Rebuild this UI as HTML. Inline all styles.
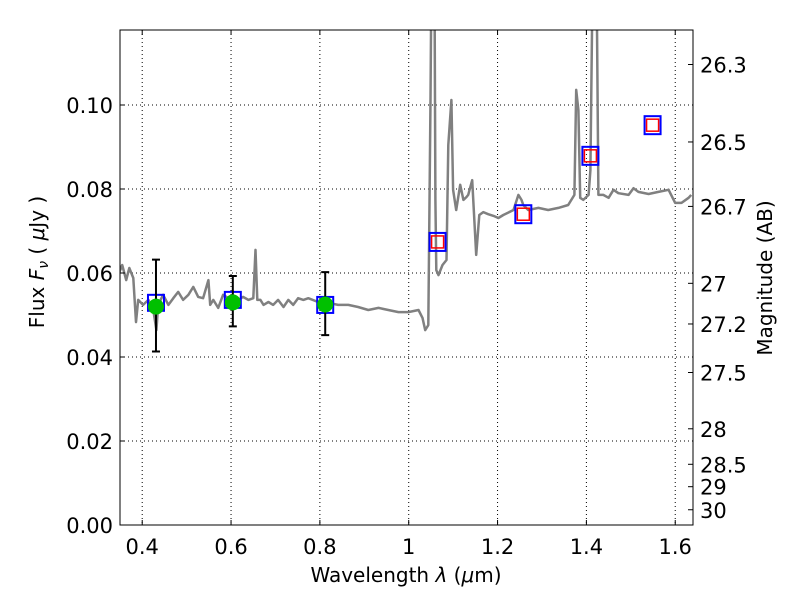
<!DOCTYPE html>
<html><head><meta charset="utf-8"><style>
body{margin:0;background:#fff;}
svg{font-family:"DejaVu Sans","Liberation Sans",sans-serif;}
</style></head><body>
<svg id="chart" width="800" height="600" xmlns="http://www.w3.org/2000/svg">
<defs><clipPath id="clip"><rect x="120" y="30" width="573" height="495"/></clipPath></defs>
<rect x="0" y="0" width="800" height="600" fill="#fff"/>
<g id="grid"></g>
<g id="plot" clip-path="url(#clip)"></g>
<rect x="120" y="30" width="573" height="495" fill="none" stroke="#000" stroke-width="1"/>
<g id="axes"></g>
<text x="406" y="582" font-size="20" text-anchor="middle">Wavelength  <tspan font-style="italic">λ</tspan> (<tspan font-style="italic">μ</tspan>m)</text>
<text transform="translate(44,262) rotate(-90)" font-size="20" text-anchor="middle">Flux  <tspan font-style="italic">F<tspan font-size="14" dy="4">ν</tspan></tspan><tspan dy="-4">  (  <tspan font-style="italic">μ</tspan>Jy )</tspan></text>
<text transform="translate(772,278) rotate(-90)" font-size="20" text-anchor="middle">Magnitude (AB)</text>
</svg>
<script>
const specLam=[0.346,0.355,0.364,0.371,0.380,0.386,0.391,0.402,0.414,0.425,0.432,0.436,0.447,0.459,0.470,0.481,0.492,0.504,0.515,0.526,0.537,0.549,0.553,0.560,0.571,0.582,0.594,0.605,0.616,0.627,0.639,0.650,0.655,0.659,0.666,0.673,0.684,0.695,0.706,0.718,0.729,0.740,0.751,0.763,0.774,0.796,0.819,0.841,0.864,0.886,0.909,0.932,0.954,0.977,0.999,1.022,1.031,1.037,1.044,1.049,1.051,1.058,1.060,1.062,1.067,1.076,1.085,1.089,1.096,1.100,1.107,1.116,1.123,1.130,1.134,1.143,1.152,1.159,1.168,1.179,1.191,1.202,1.213,1.236,1.247,1.254,1.258,1.269,1.292,1.314,1.337,1.359,1.373,1.377,1.382,1.386,1.393,1.405,1.409,1.414,1.423,1.427,1.438,1.450,1.461,1.472,1.495,1.506,1.517,1.540,1.562,1.585,1.600,1.614,1.630,1.636];
const specFlux=[0.0595,0.0619,0.0583,0.0612,0.0588,0.0483,0.0536,0.0524,0.0536,0.0512,0.0464,0.0524,0.0548,0.0524,0.0540,0.0555,0.0536,0.0548,0.0567,0.0543,0.0540,0.0583,0.0524,0.0536,0.0517,0.0548,0.0540,0.0531,0.0536,0.0543,0.0536,0.0540,0.0655,0.0536,0.0536,0.0524,0.0531,0.0524,0.0536,0.0519,0.0536,0.0524,0.0540,0.0536,0.0540,0.0531,0.0529,0.0524,0.0524,0.0519,0.0512,0.0517,0.0512,0.0507,0.0507,0.0512,0.0493,0.0464,0.0476,0.1012,0.13,0.13,0.0774,0.0607,0.0595,0.0619,0.0631,0.0905,0.1012,0.0798,0.0750,0.0810,0.0774,0.0781,0.0786,0.0821,0.0643,0.0738,0.0745,0.0740,0.0736,0.0731,0.0738,0.0750,0.0786,0.0774,0.0762,0.0750,0.0755,0.0750,0.0755,0.0762,0.0786,0.1036,0.0988,0.0779,0.0774,0.0786,0.0845,0.13,0.13,0.0786,0.0786,0.0779,0.0798,0.0790,0.0786,0.0802,0.0793,0.0788,0.0793,0.0798,0.0767,0.0767,0.0779,0.0786];
const photLam=[0.431,0.604,0.812];
const photFlux=[0.0520,0.0530,0.0525];
const photLo=[0.0413,0.0473,0.0452];
const photHi=[0.0632,0.0593,0.0602];
const photModel=[0.0529,0.0536,0.0524];
const nirLam=[1.065,1.258,1.409,1.549];
const nirFlux=[0.0674,0.0740,0.0879,0.0952];
const xTicks=[0.4,0.6,0.8,1.0,1.2,1.4,1.6];
const xTickLabels=["0.4","0.6","0.8","1","1.2","1.4","1.6"];
const yTicks=[0,0.02,0.04,0.06,0.08,0.10];
const yTickLabels=["0.00","0.02","0.04","0.06","0.08","0.10"];
const magTicks=[26.3,26.5,26.7,27,27.2,27.5,28,28.5,29,30];
const magTickLabels=["26.3","26.5","26.7","27","27.2","27.5","28","28.5","29","30"];

const NS="http://www.w3.org/2000/svg";
const X0=120,X1=693,Y0=525,Y1=30,LMIN=0.35,LMAX=1.64,FMIN=0,FMAX=0.11786;
function sx(l){return X0+(l-LMIN)/(LMAX-LMIN)*(X1-X0);}
function sy(f){return Y0-(f-FMIN)/(FMAX-FMIN)*(Y0-Y1);}
function mk(tag,attrs,parent){const e=document.createElementNS(NS,tag);for(const k in attrs)e.setAttribute(k,attrs[k]);parent.appendChild(e);return e;}
const grid=document.getElementById('grid'),plot=document.getElementById('plot'),axes=document.getElementById('axes');
const FS=21;
xTicks.forEach((t,i)=>{
  const x=sx(t);
  const g=mk('line',{x1:x,x2:x,y1:Y1,y2:Y0,stroke:'#000','stroke-dasharray':'1,3','stroke-width':1},grid);
  
  
  const tb=mk('line',{x1:x,x2:x,y1:Y0,y2:Y0-5,stroke:'#000'},axes);
  
  
  const tt=mk('line',{x1:x,x2:x,y1:Y1,y2:Y1+5,stroke:'#000'},axes);
  
  
  const lb=mk('text',{x:x,y:554,'font-size':FS,'text-anchor':'middle'},axes);
  lb.textContent=xTickLabels[i];
  
  
});
yTicks.forEach((t,i)=>{
  const y=sy(t);
  const g=mk('line',{x1:X0,x2:X1,y1:y,y2:y,stroke:'#000','stroke-dasharray':'1,3','stroke-width':1},grid);
  
  
  const tk=mk('line',{x1:X0,x2:X0+5,y1:y,y2:y,stroke:'#000'},axes);
  
  
  const lb=mk('text',{x:113,y:y+8,'font-size':FS,'text-anchor':'end'},axes);
  lb.textContent=yTickLabels[i];
  
  
});
magTicks.forEach((m,i)=>{
  const f=Math.pow(10,(23.9-m)/2.5);
  const y=sy(f);
  const tk=mk('line',{x1:X1-5,x2:X1,y1:y,y2:y,stroke:'#000'},axes);
  
  
  const lb=mk('text',{x:700,y:y+8,'font-size':FS,'text-anchor':'start'},axes);
  lb.textContent=magTickLabels[i];
  
  
});

const d=specLam.map((l,i)=>(i?'L':'M')+sx(l).toFixed(1)+','+sy(specFlux[i]).toFixed(1)).join(' ');
const sp=mk('path',{d:d,fill:'none',stroke:'#808080','stroke-width':2.5,'stroke-linejoin':'round'},plot);



photLam.forEach((l,i)=>{
  const x=sx(l);
  const bs=mk('rect',{x:x-8,y:sy(photModel[i])-8,width:16,height:16,fill:'none',stroke:'#0000ff','stroke-width':2},plot);
  
  
  const e=mk('path',{d:`M${x},${sy(photLo[i])}V${sy(photHi[i])}M${x-4},${sy(photLo[i])}h8M${x-4},${sy(photHi[i])}h8`,stroke:'#000','stroke-width':2,fill:'none'},plot);
  
  
  const c=mk('circle',{cx:x,cy:sy(photFlux[i]),r:8,fill:'#00c000'},plot);
  
  
});
nirLam.forEach((l,i)=>{
  const x=sx(l),y=sy(nirFlux[i]);
  const b=mk('rect',{x:x-8,y:y-9,width:16,height:18,fill:'none',stroke:'#0000ff','stroke-width':2},plot);
  
  
  const r=mk('rect',{x:x-6,y:y-6,width:12,height:12,fill:'none',stroke:'#ff0000','stroke-width':1.5},plot);
  
  
});
</script>
</body></html>
